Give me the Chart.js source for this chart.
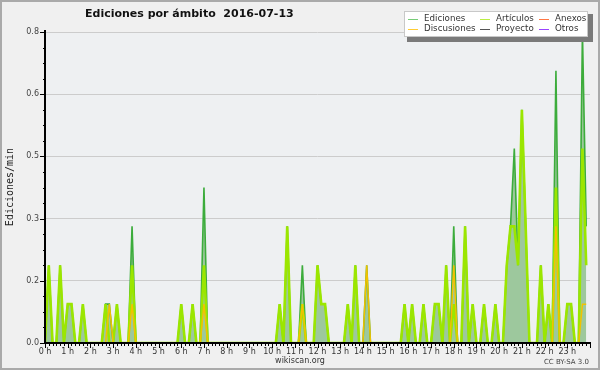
<!DOCTYPE html>
<html>
<head>
<meta charset="utf-8">
<script src="https://cdn.jsdelivr.net/npm/chart.js@4.4.1/dist/chart.umd.min.js"></script>
<style>
html,body{margin:0;padding:0;background:#f0f0f0;}
canvas{display:block;}
</style>
</head>
<body>
<canvas id="grafico" width="600" height="370"></canvas>
<script>
// ediciones/min en intervalos de 10 minutos (una fila = una hora)
var titulo = "Ediciones por ámbito  2016-07-13";
var nombres = ["Ediciones", "Artículos", "Anexos", "Discusiones", "Proyecto", "Otros"];
var coloresLeyenda = ["#77cc77", "#bbee44", "#ff7744", "#ffcc33", "#555555", "#9944ff"];

// minutos desde 00:00 de cada intervalo
var minutos = [];
for (var i = 0; i < 144; i++) { minutos.push(i * 10); }

var ediciones = [
  0, 0.2, 0, 0, 0.2, 0,
  0.1, 0.1, 0, 0, 0.1, 0,
  0, 0, 0, 0, 0.1, 0.1,
  0, 0.1, 0, 0, 0, 0.3,
  0, 0, 0, 0, 0, 0,
  0, 0, 0, 0, 0, 0,
  0.1, 0, 0, 0.1, 0, 0,
  0.4, 0, 0, 0, 0, 0,
  0, 0, 0, 0, 0, 0,
  0, 0, 0, 0, 0, 0,
  0, 0, 0.1, 0, 0.3, 0,
  0, 0, 0.2, 0, 0, 0,
  0.2, 0.1, 0.1, 0, 0, 0,
  0, 0, 0.1, 0, 0.2, 0,
  0, 0.2, 0, 0, 0, 0,
  0, 0, 0, 0, 0, 0.1,
  0, 0.1, 0, 0, 0.1, 0,
  0, 0.1, 0.1, 0, 0.2, 0,
  0.3, 0, 0, 0.3, 0, 0.1,
  0, 0, 0.1, 0, 0, 0.1,
  0, 0, 0.2, 0.3, 0.5, 0.2,
  0.6, 0.3, 0, 0, 0, 0.2,
  0, 0.1, 0, 0.7, 0, 0,
  0.1, 0.1, 0, 0, 0.8, 0.3
];
var articulos = [
  0, 0.2, 0, 0, 0.2, 0,
  0.1, 0.1, 0, 0, 0.1, 0,
  0, 0, 0, 0, 0.1, 0,
  0, 0.1, 0, 0, 0, 0.2,
  0, 0, 0, 0, 0, 0,
  0, 0, 0, 0, 0, 0,
  0.1, 0, 0, 0.1, 0, 0,
  0.2, 0, 0, 0, 0, 0,
  0, 0, 0, 0, 0, 0,
  0, 0, 0, 0, 0, 0,
  0, 0, 0.1, 0, 0.3, 0,
  0, 0, 0.1, 0, 0, 0,
  0.2, 0.1, 0.1, 0, 0, 0,
  0, 0, 0.1, 0, 0.2, 0,
  0, 0, 0, 0, 0, 0,
  0, 0, 0, 0, 0, 0.1,
  0, 0.1, 0, 0, 0.1, 0,
  0, 0.1, 0.1, 0, 0.2, 0,
  0.1, 0, 0, 0.3, 0, 0.1,
  0, 0, 0.1, 0, 0, 0.1,
  0, 0, 0.2, 0.3, 0.3, 0.2,
  0.6, 0.3, 0, 0, 0, 0.2,
  0, 0.1, 0, 0.4, 0, 0,
  0.1, 0.1, 0, 0, 0.5, 0.2
];
var discusiones = [
  0, 0, 0, 0, 0, 0,
  0, 0, 0, 0, 0, 0,
  0, 0, 0, 0, 0, 0.1,
  0, 0, 0, 0, 0, 0.1,
  0, 0, 0, 0, 0, 0,
  0, 0, 0, 0, 0, 0,
  0, 0, 0, 0, 0, 0,
  0.1, 0, 0, 0, 0, 0,
  0, 0, 0, 0, 0, 0,
  0, 0, 0, 0, 0, 0,
  0, 0, 0, 0, 0, 0,
  0, 0, 0.1, 0, 0, 0,
  0, 0, 0, 0, 0, 0,
  0, 0, 0, 0, 0, 0,
  0, 0.2, 0, 0, 0, 0,
  0, 0, 0, 0, 0, 0,
  0, 0, 0, 0, 0, 0,
  0, 0, 0, 0, 0, 0,
  0.2, 0, 0, 0, 0, 0,
  0, 0, 0, 0, 0, 0,
  0, 0, 0, 0, 0, 0,
  0, 0, 0, 0, 0, 0,
  0, 0, 0, 0.3, 0, 0,
  0, 0, 0, 0, 0.1, 0.1
];
var anexos = [
  0,0,0,0,0,0, 0,0,0,0,0,0, 0,0,0,0,0,0, 0,0,0,0,0,0, 0,0,0,0,0,0, 0,0,0,0,0,0,
  0,0,0,0,0,0, 0,0,0,0,0,0, 0,0,0,0,0,0, 0,0,0,0,0,0, 0,0,0,0,0,0, 0,0,0,0,0,0,
  0,0,0,0,0,0, 0,0,0,0,0,0, 0,0,0,0,0,0, 0,0,0,0,0,0, 0,0,0,0,0,0, 0,0,0,0,0,0,
  0,0,0,0,0,0, 0,0,0,0,0,0, 0,0,0,0,0,0, 0,0,0,0,0,0, 0,0,0,0,0,0, 0,0,0,0,0,0
];
var proyecto = [
  0,0,0,0,0,0, 0,0,0,0,0,0, 0,0,0,0,0,0, 0,0,0,0,0,0, 0,0,0,0,0,0, 0,0,0,0,0,0,
  0,0,0,0,0,0, 0,0,0,0,0,0, 0,0,0,0,0,0, 0,0,0,0,0,0, 0,0,0,0,0,0, 0,0,0,0,0,0,
  0,0,0,0,0,0, 0,0,0,0,0,0, 0,0,0,0,0,0, 0,0,0,0,0,0, 0,0,0,0,0,0, 0,0,0,0,0,0,
  0,0,0,0,0,0, 0,0,0,0,0,0, 0,0,0,0,0,0, 0,0,0,0,0,0, 0,0,0,0,0,0, 0,0,0,0,0,0
];
var otros = [
  0,0,0,0,0,0, 0,0,0,0,0,0, 0,0,0,0,0,0, 0,0,0,0,0,0, 0,0,0,0,0,0, 0,0,0,0,0,0,
  0,0,0,0,0,0, 0,0,0,0,0,0, 0,0,0,0,0,0, 0,0,0,0,0,0, 0,0,0,0,0,0, 0,0,0,0,0,0,
  0,0,0,0,0,0, 0,0,0,0,0,0, 0,0,0,0,0,0, 0,0,0,0,0,0, 0,0,0,0,0,0, 0,0,0,0,0,0,
  0,0,0,0,0,0, 0,0,0,0,0,0, 0,0,0,0,0,0, 0,0,0,0,0,0, 0,0,0,0,0,0, 0,0,0,0,0,0
];

// fondo, ejes, leyenda y textos al estilo rrdtool
var marco = {
  id: 'marco',
  beforeDraw: function(chart){
    var c = chart.ctx, a = chart.chartArea;
    c.save();
    c.fillStyle = "#f0f0f0";
    c.fillRect(0, 0, 600, 370);
    c.fillStyle = "#eef0f2";
    c.fillRect(a.left, a.top, a.right - a.left, a.bottom - a.top);
    c.strokeStyle = "#aaaaaa";
    c.lineWidth = 2;
    c.strokeRect(1, 1, 598, 368);
    c.restore();
  },
  afterDatasetsDraw: function(chart){
    var c = chart.ctx, a = chart.chartArea, sx = chart.scales.x, sy = chart.scales.y;
    c.save();
    c.strokeStyle = "#000";
    c.lineWidth = 1;
    c.beginPath();
    for (var k = 0; k <= 20; k++) {
      var py = Math.round(sy.getPixelForValue(k * 0.04)) + 0.5;
      c.moveTo(a.left - (k % 4 == 0 ? 5 : 2), py);
      c.lineTo(a.left, py);
    }
    for (var j = 0; j <= 144; j++) {
      var px = Math.round(sx.getPixelForValue(j * 10)) + 0.5;
      c.moveTo(px, a.bottom);
      c.lineTo(px, a.bottom + (j % 6 == 0 ? 5 : 3));
    }
    c.stroke();
    c.lineWidth = 2;
    c.beginPath();
    c.moveTo(a.left, a.top - 2);
    c.lineTo(a.left, a.bottom + 1);
    c.moveTo(a.left - 1, a.bottom);
    c.lineTo(a.right + 1, a.bottom);
    c.stroke();
    c.restore();
  },
  afterDraw: function(chart){
    var c = chart.ctx;
    c.save();
    // titulo
    c.fillStyle = "#111";
    c.font = "bold 11px 'DejaVu Sans'";
    c.textAlign = "left";
    c.textBaseline = "middle";
    c.fillText(titulo, 85, 14);
    // eje vertical
    c.save();
    c.translate(10, 187);
    c.rotate(-Math.PI / 2);
    c.textAlign = "center";
    c.font = "10px 'DejaVu Sans Mono'";
    c.fillStyle = "#222";
    c.fillText("Ediciones/min", 0, 0);
    c.restore();
    // pie
    c.font = "8px 'DejaVu Sans'";
    c.fillStyle = "#333";
    c.textAlign = "center";
    c.fillText("wikiscan.org", 300, 361);
    c.font = "7px 'DejaVu Sans'";
    c.fillStyle = "#444";
    c.textAlign = "right";
    c.fillText("CC BY-SA 3.0", 589, 362);
    // leyenda
    c.fillStyle = "#7a7a7a";
    c.fillRect(407, 14, 186, 28);
    c.fillStyle = "#ffffff";
    c.fillRect(404, 11, 184, 26);
    c.strokeStyle = "#c8c8c8";
    c.lineWidth = 1;
    c.strokeRect(404.5, 11.5, 183, 25);
    var colX = [408, 480, 539];
    var filaY = [19, 29];
    c.font = "8.7px 'DejaVu Sans'";
    c.textAlign = "left";
    for (var n = 0; n < nombres.length; n++) {
      var x0 = colX[n % 3], y0 = filaY[Math.floor(n / 3)];
      c.strokeStyle = coloresLeyenda[n];
      c.beginPath();
      c.moveTo(x0, y0 + 0.5);
      c.lineTo(x0 + 10, y0 + 0.5);
      c.stroke();
      c.fillStyle = "#333";
      c.fillText(nombres[n], x0 + 16, y0);
    }
    c.restore();
  }
};

function serie(nombre, datos, color, ancho, orden, relleno){
  return {
    label: nombre,
    data: datos,
    borderColor: color,
    borderWidth: ancho,
    backgroundColor: relleno || color,
    fill: relleno ? 'origin' : false,
    pointRadius: 0,
    tension: 0,
    order: orden
  };
}

var ctx = document.getElementById("grafico").getContext("2d");
var grafico = new Chart(ctx, {
  type: 'line',
  data: {
    labels: minutos,
    datasets: [
      serie(nombres[0], ediciones, "#3cac3c", 1.6, 5, "#9dc89d"),
      serie(nombres[1], articulos, "#9be600", 2.6, 2),
      serie(nombres[2], anexos, "#ff8844", 1, 6),
      serie(nombres[3], discusiones, "#f2c200", 1.5, 1),
      serie(nombres[4], proyecto, "#555555", 1, 7),
      serie(nombres[5], otros, "#9944ff", 1, 8)
    ]
  },
  options: {
    responsive: false,
    animation: false,
    layout: { padding: { left: 0, top: 32, right: 10, bottom: 0 } },
    plugins: {
      legend: { display: false },
      tooltip: { enabled: false },
      title: { display: false }
    },
    scales: {
      x: {
        type: 'linear',
        min: 0,
        max: 1440,
        grid: { display: false, drawTicks: false },
        border: { display: false },
        ticks: {
          stepSize: 60,
          autoSkip: false,
          maxRotation: 0,
          padding: 4,
          color: "#333",
          font: { family: "DejaVu Sans", size: 8 },
          callback: function(v){ return v < 1440 ? (v / 60) + " h" : ""; }
        },
        afterFit: function(s){ s.height = 27; }
      },
      y: {
        min: 0,
        max: 0.8,
        grid: { color: "#cccccc", drawTicks: false },
        border: { display: false },
        ticks: {
          stepSize: 0.16,
          padding: 6,
          color: "#444",
          font: { family: "DejaVu Sans", size: 8 },
          callback: function(v){ return v.toFixed(1); }
        },
        afterFit: function(s){ s.width = 45; }
      }
    }
  },
  plugins: [marco]
});
</script>
</body>
</html>
